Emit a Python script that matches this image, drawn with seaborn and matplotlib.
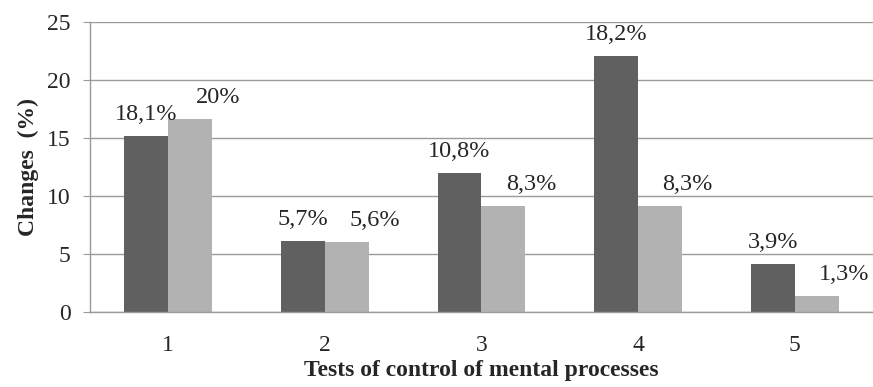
import numpy as np
import pandas as pd
import matplotlib
matplotlib.use("Agg")
import matplotlib.pyplot as plt
import seaborn as sns

# Datos del gráfico
tests = ["1", "2", "3", "4", "5"]
serie_1 = [15.2, 6.1, 12.0, 22.1, 4.1]
serie_2 = [16.6, 6.0, 9.1, 9.1, 1.4]
etiquetas_1 = ["18,1%", "5,7%", "10,8%", "18,2%", "3,9%"]
etiquetas_2 = ["20%", "5,6%", "8,3%", "8,3%", "1,3%"]

df = pd.DataFrame({
    "test": tests * 2,
    "valor": serie_1 + serie_2,
    "serie": ["Serie 1"] * len(tests) + ["Serie 2"] * len(tests),
})

sns.set_style("white")
plt.rcParams["font.family"] = ["Liberation Serif", "DejaVu Serif"]

gris = "#9a9a9a"
fig = plt.figure(figsize=(8.73, 3.87), dpi=100)
ax = fig.add_axes([0.103, 0.194, 0.897, 0.749])

sns.barplot(data=df, x="test", y="valor", hue="serie",
            palette=["#606060", "#b2b2b2"], width=0.56, gap=0,
            saturation=1, legend=False, linewidth=0, ax=ax)

# Etiquetas sobre las barras
for i, (v1, v2) in enumerate(zip(serie_1, serie_2)):
    ax.annotate(etiquetas_1[i], (i - 0.14, v1), xytext=(0, 8),
                textcoords="offset points", ha="center", va="bottom", fontsize=17.5)
    ax.annotate(etiquetas_2[i], (i + 0.14, v2), xytext=(20, 8),
                textcoords="offset points", ha="center", va="bottom", fontsize=17.5)

ax.set_xlim(-0.5, 4.5)
ax.set_ylim(0, 25)
ax.set_yticks(np.arange(0, 26, 5))
ax.yaxis.grid(True, color=gris, linewidth=1)
ax.set_axisbelow(True)

for lado in ["top", "right"]:
    ax.spines[lado].set_visible(False)
for lado in ["left", "bottom"]:
    ax.spines[lado].set_color(gris)
    ax.spines[lado].set_linewidth(1)

ax.tick_params(axis="y", left=True, length=5, color=gris, pad=9, labelsize=17)
ax.tick_params(axis="x", bottom=False, pad=13, labelsize=17)

ax.set_xlabel("Tests of control of mental processes", fontsize=17, fontweight="bold", labelpad=3)
ax.set_ylabel("Changes  (%)", fontsize=17, fontweight="bold", labelpad=6)

fig.savefig("out.png", dpi=100)
